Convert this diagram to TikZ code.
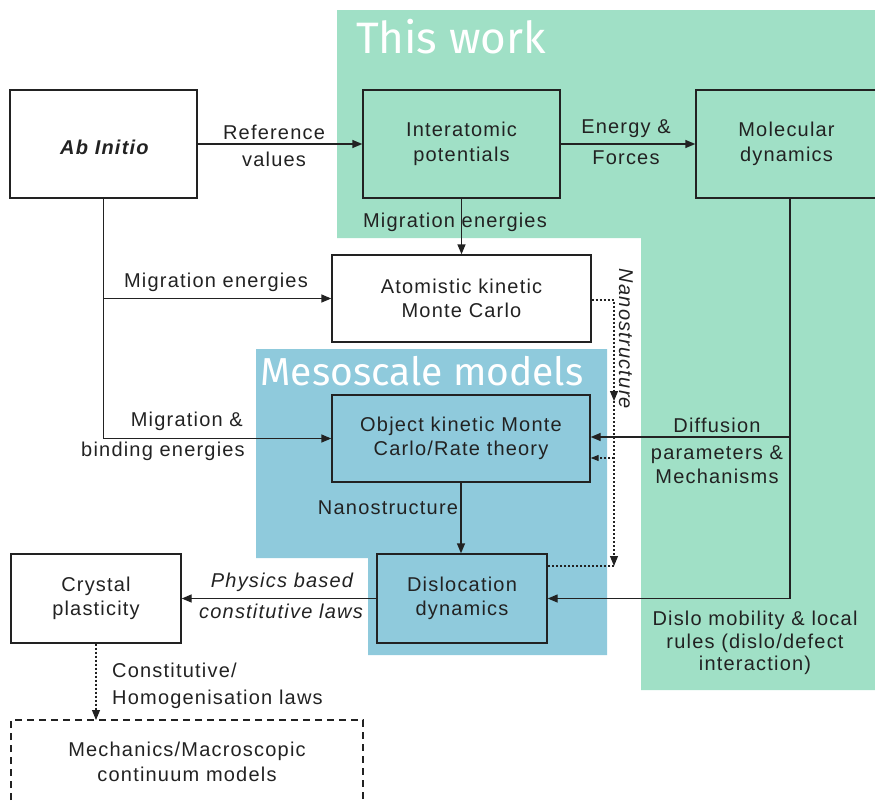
\documentclass[tikz,border=0pt]{standalone}
\usepackage{fontspec}
\setmainfont{Liberation Sans}[LetterSpace=6]
\newfontfamily\titlefont{Fira Sans}
\usetikzlibrary{arrows.meta}
\definecolor{gbg}{HTML}{A0E0C6}
\definecolor{bbg}{HTML}{8FCADC}
\definecolor{ink}{HTML}{222222}
\begin{document}
\begin{tikzpicture}[x=1pt,y=-1pt,
  every node/.style={text=ink},
  txt/.style={font=\fontsize{20}{24.5}\selectfont, inner sep=0pt, align=center},
  itxt/.style={txt, font=\fontsize{20}{24.5}\selectfont\itshape},
  box/.style={txt, draw=ink, line width=1.4pt},
  line/.style={draw=ink, line width=1.4pt},
  arr/.style={line, -{Triangle[length=10pt,width=8pt]}},
  dot/.style={draw=ink, line width=1.1pt, dash pattern=on 2pt off 2pt},
  darr/.style={dot, -{Triangle[length=10pt,width=8pt]}},
  darrs/.style={dot, -{Triangle[length=8pt,width=6pt]}},
  title/.style={text=white, inner sep=0pt}
]
\useasboundingbox (0,0) rectangle (875,803);
% backgrounds
\fill[gbg] (337,10) -- (877,10) -- (877,690) -- (641,690) -- (641,238) -- (337,238) -- cycle;
\fill[bbg] (256,349) -- (607,349) -- (607,655) -- (368,655) -- (368,558) -- (256,558) -- cycle;
\node[title, font=\titlefont\fontsize{44}{44}\selectfont] (tw) at (451,37) {This work};
\node[title, font=\titlefont\fontsize{39}{39}\selectfont] (ms) at (422,371) {Mesoscale models};

% boxes
\node[box, fill=white, minimum width=187pt, minimum height=108pt] (abinit) at (103.5,144) {};
\node[txt] (abtxt) at (105,147) {\textbf{\textit{Ab Initio}}};
\node[box, fill=gbg, minimum width=197pt, minimum height=108pt] (inter) at (461.5,144) {Interatomic\\potentials};
\node[box, fill=gbg, minimum width=181pt, minimum height=108pt] (md) at (786.5,144) {Molecular\\dynamics};
\node[box, fill=white, minimum width=259pt, minimum height=87pt] (akmc) at (461.5,298.5) {Atomistic kinetic\\Monte Carlo};
\node[box, fill=bbg, minimum width=258pt, minimum height=87pt] (okmc) at (461,438.5) {Object kinetic Monte\\Carlo/Rate theory};
\node[box, fill=bbg, minimum width=170pt, minimum height=89pt] (dd) at (462,598.5) {Dislocation\\dynamics};
\node[box, fill=white, minimum width=170pt, minimum height=89pt] (cp) at (96,598.5) {Crystal\\plasticity};
\node[txt] (mech) at (187,762) {Mechanics/Macroscopic\\continuum models};
\draw[ink, line width=1.2pt, dash pattern=on 7pt off 5pt] (11,812) -- (11,720) -- (363,720) -- (363,812);
\coordinate (mechtop) at (96,720);

% coordinates
\coordinate (aj1) at (103.5,298.5);
\coordinate (mj1) at (790,437);
\coordinate (mj2) at (790,598.5);
\coordinate (dA) at (614,300);
\coordinate (dB) at (614,401);
\coordinate (dC) at (614,566);
\coordinate (dD) at (614,458);

% connectors
\draw[arr] (abinit.east) -- (inter.west);
\draw[arr] (inter.east) -- (md.west);
\draw[arr] (inter.south) -- (akmc.north);
\draw[line] (abinit.south) -- (aj1);
\draw[arr] (aj1) -- (akmc.west);
\draw[arr] (aj1) |- (okmc.west);
\draw[line] (mj2 |- md.south) -- (mj2);
\draw[arr] (mj1) -- (okmc.east |- mj1);
\draw[arr] (mj2) -- (dd.east);
\draw[arr] (okmc.south) -- (okmc.south |- dd.north);
\draw[arr] (dd.west) -- (cp.east);
\draw[darr] (cp.south) -- (mechtop);
\draw[darr] (akmc.east |- dA) -- (dA) -- (dB);
\draw[darr] (dB) -- (dC);
\draw[dot] (dC) -- (dd.east |- dC);
\draw[darrs] (dD) -- (okmc.east |- dD);

% labels
\node[txt] (l1a) at (274,132) {Reference};
\node[txt] (l1b) at (274,159) {values};
\node[txt] (l2a) at (626,129) {Energy \&};
\node[txt] (l2b) at (626,158) {Forces};
\node[txt] (l3) at (455,222) {Migration energies};
\node[txt] (l4) at (216,282) {Migration energies};
\node[txt, anchor=east] (l5a) at (243,421) {Migration \&};
\node[txt, anchor=east] (l5b) at (245,451) {binding energies};
\node[txt] (l6) at (717,451) {Diffusion\\[2pt]parameters \&\\Mechanisms};
\node[txt] (l7) at (388,508) {Nanostructure};
\node[itxt] (l8a) at (282,582) {Physics based};
\node[itxt] (l8b) at (281,611) {constitutive laws};
\node[txt, align=left, anchor=west] (l9) at (112,686) {Constitutive/\\[2pt]Homogenisation laws};
\node[txt] (l10) at (755,643) {Dislo mobility \& local\\[-2pt]rules (dislo/defect\\[-2pt]interaction)};
\node[itxt, rotate=-90] (l11) at (626,339) {Nanostructure};
\end{tikzpicture}
\end{document}
